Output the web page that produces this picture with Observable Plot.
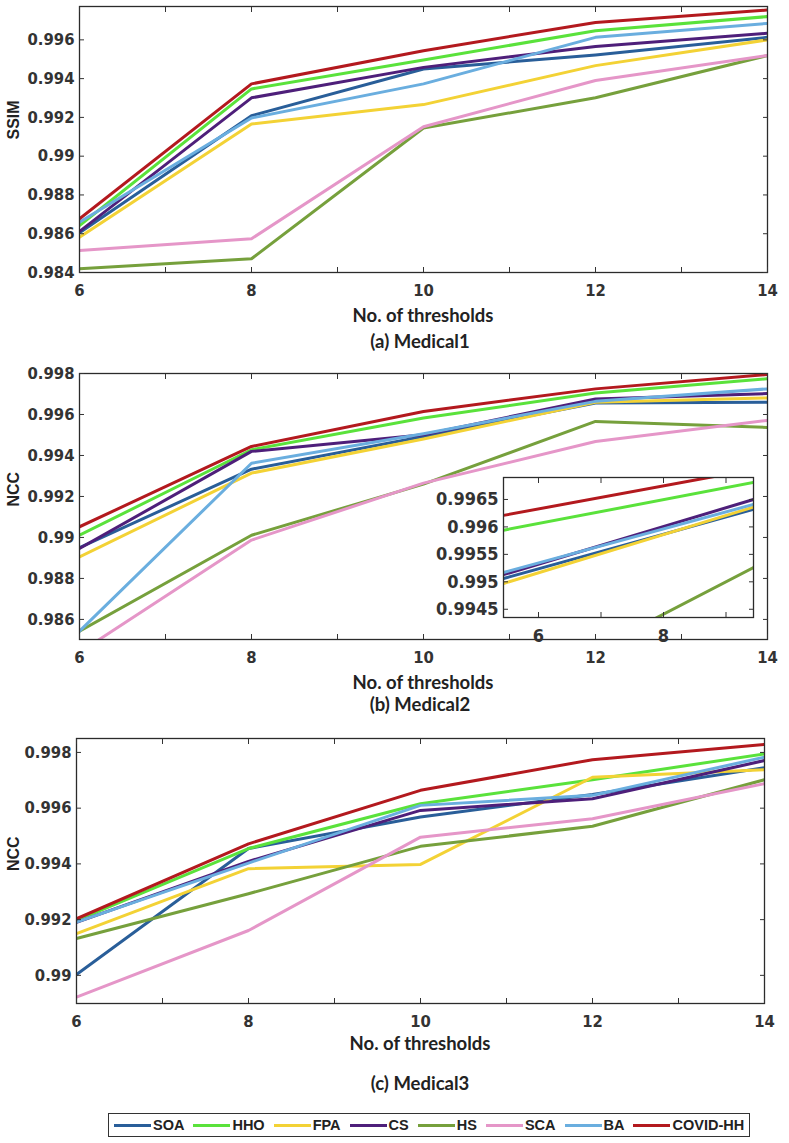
<!DOCTYPE html>
<html>
<head>
<meta charset="utf-8">
<script src="https://cdn.jsdelivr.net/npm/d3@7"></script>
<script src="https://cdn.jsdelivr.net/npm/@observablehq/plot@0.6"></script>
<style>
  html, body { margin: 0; padding: 0; background: #fff; }
  #root { position: relative; width: 789px; height: 1143px; overflow: hidden; background: #fff; }
  .panel { position: absolute; left: 0; }
  .panel svg { overflow: visible; }
  .ctext { position: absolute; width: 400px; height: 24px; line-height: 24px; text-align: center;
           font-family: "Lato", "Open Sans", sans-serif; font-weight: 700; color: #222; }
  .xlab { font-size: 18.5px; }
  .cap { font-size: 18.5px; }
  #legend { position: absolute; left: 108px; top: 1113px; width: 642px; height: 24px;
            border: 1.4px solid #333; background: #fff; display: flex; align-items: center;
            padding-left: 5px; box-sizing: border-box; gap: 9px;
            font-family: "Liberation Sans", Arial, sans-serif; font-weight: 700; font-size: 14.5px; color: #222; }
  .item { display: flex; align-items: center; gap: 2px; }
  .swatch { width: 37px; height: 3px; display: inline-block; }
</style>
</head>
<body>
<div id="root"></div>
<script>
// ---------- data ----------
const thresholds = [6, 8, 10, 12, 14];
const methods = ["SOA", "HHO", "FPA", "CS", "HS", "SCA", "BA", "COVID-HH"];
const colors  = ["#295e99", "#5ae23b", "#f3d235", "#4e1f7a", "#76a03c", "#e596c8", "#6aaedf", "#b3191e"];

// (a) Medical1 — SSIM, rows in methods order
const ssimMedical1 = [
  [0.98605, 0.99209, 0.99450, 0.99522, 0.99613], // SOA
  [0.98642, 0.99347, 0.99496, 0.99647, 0.99720], // HHO
  [0.98582, 0.99166, 0.99266, 0.99467, 0.99600], // FPA
  [0.98612, 0.99301, 0.99458, 0.99566, 0.99634], // CS
  [0.98419, 0.98471, 0.99145, 0.99301, 0.99519], // HS
  [0.98513, 0.98574, 0.99152, 0.99390, 0.99519], // SCA
  [0.98659, 0.99197, 0.99373, 0.99613, 0.99685], // BA
  [0.98677, 0.99373, 0.99544, 0.99690, 0.99754]  // COVID-HH
];
// (b) Medical2 — NCC
const nccMedical2 = [
  [0.98950, 0.99333, 0.99493, 0.99656, 0.99660],
  [0.99011, 0.99428, 0.99583, 0.99705, 0.99774],
  [0.98905, 0.99314, 0.99480, 0.99660, 0.99681],
  [0.98946, 0.99420, 0.99501, 0.99676, 0.99702],
  [0.98543, 0.99011, 0.99260, 0.99566, 0.99537],
  [0.98439, 0.98987, 0.99265, 0.99468, 0.99571],
  [0.98543, 0.99362, 0.99506, 0.99664, 0.99725],
  [0.99052, 0.99444, 0.99615, 0.99725, 0.99795]
];
// (b) inset (zoomed view) — two end points per line
const insetX = [5.44, 9.44];
const insetMethods = ["SOA", "HHO", "FPA", "CS", "HS", "BA", "COVID-HH"];
const insetValues = [
  [0.99506, 0.99632],
  [0.99594, 0.99681],
  [0.99497, 0.99636],
  [0.99513, 0.99650],
  [0.99290, 0.99526],
  [0.99517, 0.99641],
  [0.99621, 0.99705]
];
// (c) Medical3 — NCC
const nccMedical3 = [
  [0.99003, 0.99455, 0.99568, 0.99649, 0.99745],
  [0.99197, 0.99455, 0.99616, 0.99702, 0.99795],
  [0.99150, 0.99383, 0.99398, 0.99711, 0.99738],
  [0.99190, 0.99409, 0.99592, 0.99634, 0.99771],
  [0.99132, 0.99293, 0.99463, 0.99535, 0.99702],
  [0.98922, 0.99161, 0.99496, 0.99562, 0.99688],
  [0.99191, 0.99403, 0.99610, 0.99646, 0.99783],
  [0.99203, 0.99472, 0.99664, 0.99774, 0.99829]
];

const xLabelTicks = [6, 8, 10, 12, 14];
const xMinorTicks = [6, 7, 8, 9, 10, 11, 12, 13, 14];
const yTicks1 = [0.984, 0.986, 0.988, 0.99, 0.992, 0.994, 0.996];
const yTicks2 = [0.986, 0.988, 0.99, 0.992, 0.994, 0.996, 0.998];
const yTicks3 = [0.99, 0.992, 0.994, 0.996, 0.998];
const insetYTicks = [0.9945, 0.995, 0.9955, 0.996, 0.9965];
const insetXTicks = [6, 7, 8, 9];
const insetXLabels = [6, 8];

// ---------- drawing ----------
const tickFont = '"Liberation Sans Narrow", "DejaVu Sans Condensed", "Liberation Sans", sans-serif';
const fmt = d => String(+d.toFixed(5));
const blank = () => "";

function rowsOf(xs, values, names) {
  const rows = [];
  names.forEach((m, i) => values[i].forEach((v, j) => rows.push({method: m, x: xs[j], y: v})));
  return rows;
}

function makePanel(cfg) {
  return Plot.plot({
    width: cfg.width, height: cfg.height,
    marginLeft: cfg.ml, marginRight: cfg.mr, marginTop: cfg.mt, marginBottom: cfg.mb,
    style: {background: "transparent", fontFamily: tickFont, fontSize: cfg.fontSize || "16.5px", fontWeight: "bold", color: "#333", overflow: "visible"},
    x: {domain: cfg.xDomain},
    y: {domain: cfg.yDomain},
    color: {domain: methods, range: colors},
    marks: [
      cfg.fill ? Plot.frame({fill: "white", stroke: null}) : null,
      Plot.line(cfg.rows, {x: "x", y: "y", z: "method", stroke: "method", strokeWidth: 3, clip: true}),
      Plot.frame({stroke: "#2b2b2b", strokeWidth: 1.3}),
      Plot.axisX({ticks: cfg.xLabels, tickSize: 0, tickPadding: 12, label: null, tickFormat: d => String(d)}),
      Plot.axisX({ticks: cfg.xTicks, tickSize: -5, tickFormat: blank, label: null}),
      Plot.axisX({anchor: "top", ticks: cfg.xTicks, tickSize: -5, tickFormat: blank, label: null}),
      Plot.axisY({ticks: cfg.yTicks, tickSize: 0, tickPadding: 5, label: null, tickFormat: fmt}),
      Plot.axisY({ticks: cfg.yTicks, tickSize: -5, tickFormat: blank, label: null}),
      Plot.axisY({anchor: "right", ticks: cfg.yTicks, tickSize: -5, tickFormat: blank, label: null}),
      cfg.ylabel ? Plot.text([cfg.ylabel], {frameAnchor: "left", rotate: -90, dx: cfg.ylabelDx,
        fontFamily: '"Liberation Sans", Arial, sans-serif', fontWeight: "bold", fontSize: 16, fill: "#222"}) : null
    ]
  });
}

const root = document.getElementById("root");
function place(el, left, top) {
  const d = document.createElement("div");
  d.className = "panel";
  d.style.left = left + "px";
  d.style.top = top + "px";
  d.appendChild(el);
  root.appendChild(d);
  return d;
}
function ctext(text, cx, cy, cls) {
  const d = document.createElement("div");
  d.className = "ctext " + cls;
  d.style.left = (cx - 200) + "px";
  d.style.top = (cy - 12) + "px";
  d.textContent = text;
  root.appendChild(d);
}

// Panel (a)
place(makePanel({
  width: 789, height: 300, ml: 79, mr: 22, mt: 6, mb: 28,
  xDomain: [6, 14], yDomain: [0.984, 0.99772],
  xLabels: xLabelTicks, xTicks: xMinorTicks, yTicks: yTicks1,
  rows: rowsOf(thresholds, ssimMedical1, methods), ylabel: "SSIM", ylabelDx: -66
}), 0, 0);
ctext("No. of thresholds", 423, 315, "xlab");
ctext("(a) Medical1", 420, 341, "cap");

// Panel (b)
place(makePanel({
  width: 789, height: 310, ml: 79, mr: 22, mt: 13, mb: 31,
  xDomain: [6, 14], yDomain: [0.98502, 0.998],
  xLabels: xLabelTicks, xTicks: xMinorTicks, yTicks: yTicks2,
  rows: rowsOf(thresholds, nccMedical2, methods), ylabel: "NCC", ylabelDx: -66
}), 0, 360);
ctext("No. of thresholds", 423, 682, "xlab");
ctext("(b) Medical2", 420, 704, "cap");

// Inset of (b)
place(makePanel({
  width: 307, height: 171, ml: 55, mr: 2, mt: 3, mb: 28, fontSize: "18px",
  xDomain: insetX, yDomain: [0.99435, 0.9969],
  xLabels: insetXLabels, xTicks: insetXTicks, yTicks: insetYTicks,
  rows: rowsOf(insetX, insetValues, insetMethods), fill: true
}), 448, 474);

// Panel (c)
place(makePanel({
  width: 789, height: 310, ml: 76, mr: 25, mt: 13, mb: 32,
  xDomain: [6, 14], yDomain: [0.98899, 0.9985],
  xLabels: xLabelTicks, xTicks: xMinorTicks, yTicks: yTicks3,
  rows: rowsOf(thresholds, nccMedical3, methods), ylabel: "NCC", ylabelDx: -63
}), 0, 725);
ctext("No. of thresholds", 420, 1043, "xlab");
ctext("(c) Medical3", 420, 1083, "cap");

// Legend
const legend = document.createElement("div");
legend.id = "legend";
methods.forEach((m, i) => {
  const it = document.createElement("div");
  it.className = "item";
  const sw = document.createElement("span");
  sw.className = "swatch";
  sw.style.background = colors[i];
  const t = document.createElement("span");
  t.textContent = m;
  it.appendChild(sw); it.appendChild(t);
  legend.appendChild(it);
});
root.appendChild(legend);
</script>
</body>
</html>
